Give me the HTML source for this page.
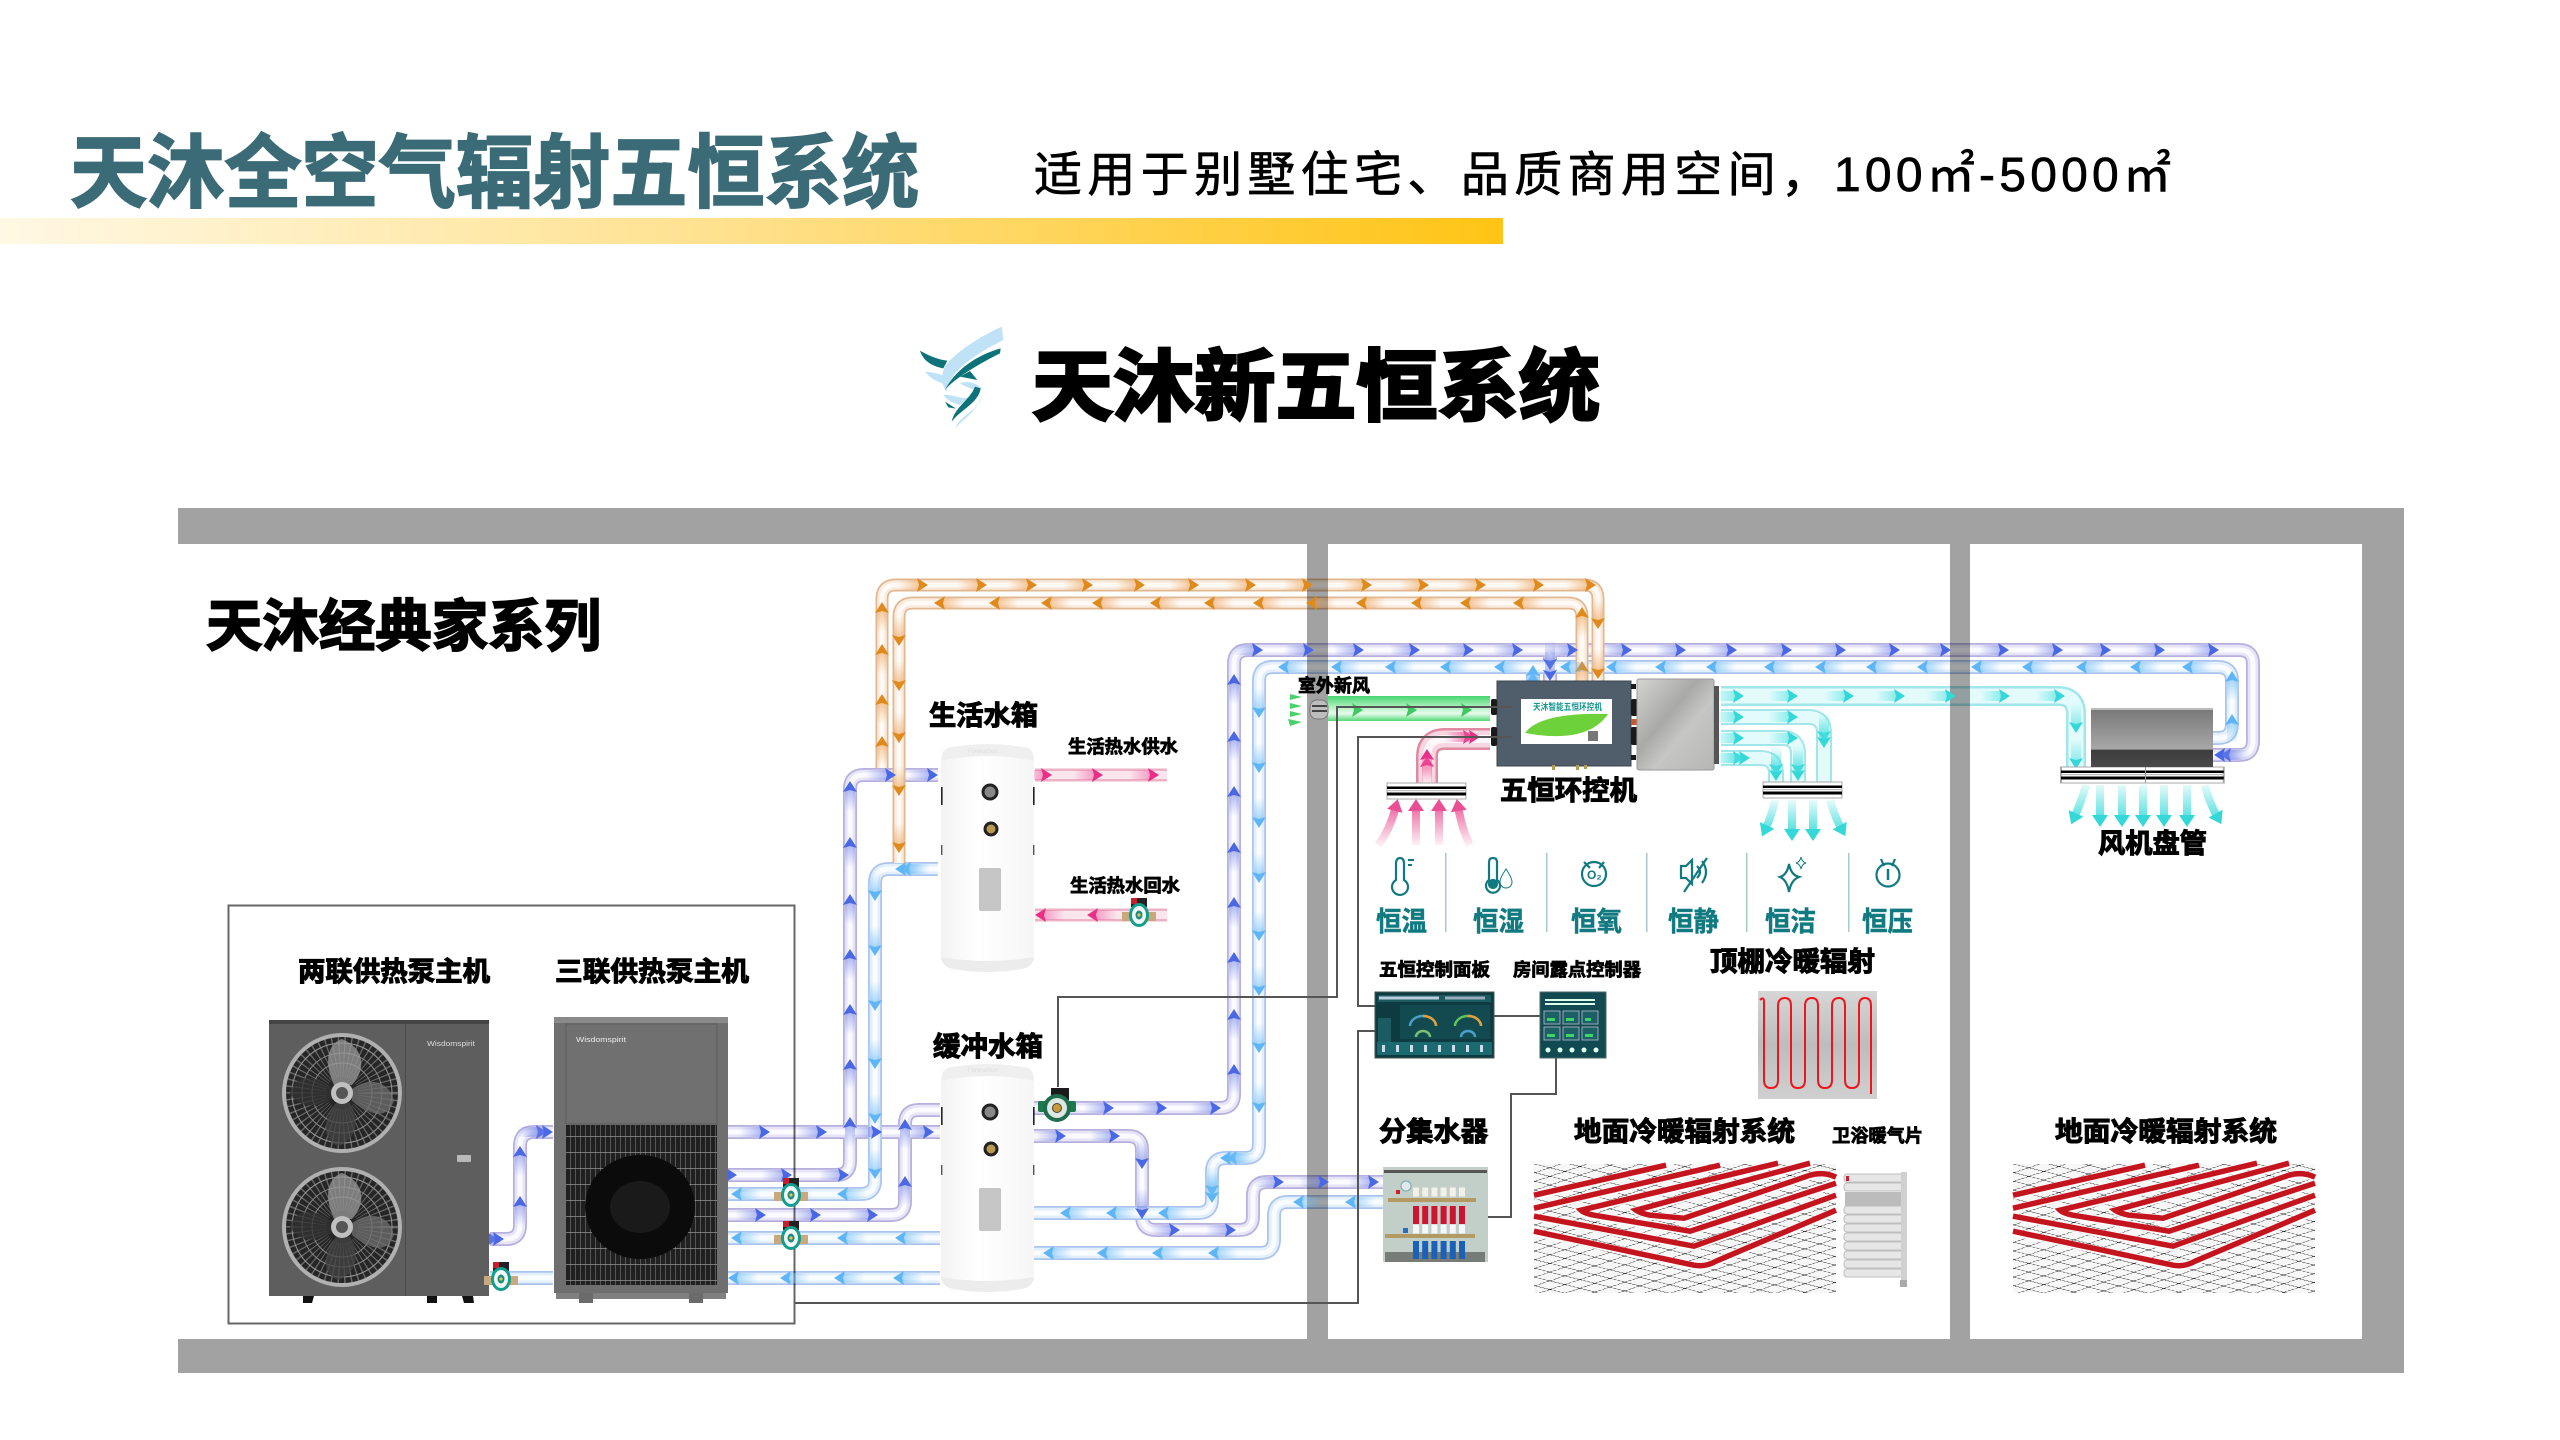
<!DOCTYPE html>
<html lang="zh"><head><meta charset="utf-8"><title>天沐全空气辐射五恒系统</title>
<style>
html,body{margin:0;padding:0;background:#fff}
svg{display:block;font-family:"Liberation Sans","Noto Sans CJK SC",sans-serif}
.t{font-weight:700;fill:#000;stroke:#000;stroke-width:1.100}
.c{font-weight:700;fill:#117a80;stroke:#117a80;stroke-width:.5}
.a{fill:none;stroke:none}
.mu{marker:url(#mu)}.mb{marker:url(#mb)}.mo{marker:url(#mo)}.mk{marker:url(#mk)}.mc{marker:url(#mc)}.mg{marker:url(#mg)}
.ic{fill:none;stroke:#117a80;stroke-width:2.200}
</style></head><body>
<svg width="2560" height="1440" viewBox="0 0 2560 1440" xmlns="http://www.w3.org/2000/svg">
<defs>
<linearGradient id="bar" x1="0" x2="1" y1="0" y2="0"><stop offset="0" stop-color="#fff8e4"/><stop offset=".5" stop-color="#ffe08a"/><stop offset="1" stop-color="#ffc414"/></linearGradient>
<linearGradient id="grn" x1="0" x2="0" y1="0" y2="1"><stop offset="0" stop-color="#45d66f"/><stop offset=".4" stop-color="#a8eeba"/><stop offset=".7" stop-color="#e8fbec"/><stop offset="1" stop-color="#52d977"/></linearGradient>
<linearGradient id="tank" x1="0" x2="1" y1="0" y2="0"><stop offset="0" stop-color="#f3f3f3"/><stop offset=".4" stop-color="#fff"/><stop offset="1" stop-color="#f6f6f6"/></linearGradient>
<linearGradient id="metal" x1="0" x2="1" y1="0" y2="1"><stop offset="0" stop-color="#d4d4d2"/><stop offset=".4" stop-color="#a9a9a7"/><stop offset=".6" stop-color="#c6c6c4"/><stop offset="1" stop-color="#b6b6b4"/></linearGradient>
<linearGradient id="fcu" x1="0" x2="0" y1="0" y2="1"><stop offset="0" stop-color="#777"/><stop offset=".7" stop-color="#a8a8a8"/><stop offset=".71" stop-color="#3d3d3d"/><stop offset="1" stop-color="#4a4a4a"/></linearGradient>
<linearGradient id="ceil" x1="0" x2="0" y1="0" y2="1"><stop offset="0" stop-color="#d6d6d6"/><stop offset=".5" stop-color="#bdbdbd"/><stop offset="1" stop-color="#d0d0d0"/></linearGradient>
<linearGradient id="cy1" gradientUnits="userSpaceOnUse" x1="0" x2="0" y1="800" y2="836"><stop offset="0" stop-color="#e8fbfb"/><stop offset="1" stop-color="#3fdcdc"/></linearGradient>
<linearGradient id="cy2" gradientUnits="userSpaceOnUse" x1="0" x2="0" y1="784" y2="824"><stop offset="0" stop-color="#e8fbfb"/><stop offset="1" stop-color="#3fdcdc"/></linearGradient>
<linearGradient id="pk1" gradientUnits="userSpaceOnUse" x1="0" x2="0" y1="845" y2="802"><stop offset="0" stop-color="#fdf0f5"/><stop offset="1" stop-color="#ec5a9a"/></linearGradient>
<linearGradient id="tu"><stop offset="0" stop-color="#6f80e6" stop-opacity="0"/><stop offset="1" stop-color="#6f80e6" stop-opacity=".55"/></linearGradient>
<linearGradient id="tb"><stop offset="0" stop-color="#6bbcf6" stop-opacity="0"/><stop offset="1" stop-color="#6bbcf6" stop-opacity=".6"/></linearGradient>
<linearGradient id="to"><stop offset="0" stop-color="#e99a4a" stop-opacity="0"/><stop offset="1" stop-color="#e99a4a" stop-opacity=".55"/></linearGradient>
<linearGradient id="tk"><stop offset="0" stop-color="#ee5f9f" stop-opacity="0"/><stop offset="1" stop-color="#ee5f9f" stop-opacity=".55"/></linearGradient>
<linearGradient id="tc"><stop offset="0" stop-color="#4fe0e0" stop-opacity="0"/><stop offset="1" stop-color="#4fe0e0" stop-opacity=".6"/></linearGradient>
<pattern id="mesh" width="15" height="15" patternUnits="userSpaceOnUse" patternTransform="matrix(1,-.33,1,.25,0,0)"><path d="M0 0H15M0 0V15" stroke="#111" stroke-width="1.700" stroke-dasharray="3 1" fill="none"/></pattern>
<pattern id="gr" width="5" height="16" patternUnits="userSpaceOnUse"><rect width="5" height="16" fill="#202020"/><path d="M0 0V16" stroke="#8a8a8a" stroke-width="1"/><path d="M0 0H5" stroke="#9a9a9a" stroke-width="1.400"/></pattern>
<marker id="mu" markerUnits="userSpaceOnUse" markerWidth="44" markerHeight="20" refX="30" refY="10" orient="auto" overflow="visible"><rect x="6" y="5" width="22" height="10" fill="url(#tu)"/><path d="M25 3L36 10L25 17L27 10Z" fill="#4a68e4"/></marker>
<marker id="mb" markerUnits="userSpaceOnUse" markerWidth="44" markerHeight="20" refX="30" refY="10" orient="auto" overflow="visible"><rect x="6" y="5" width="22" height="10" fill="url(#tb)"/><path d="M25 3L36 10L25 17L27 10Z" fill="#5fb6f6"/></marker>
<marker id="mo" markerUnits="userSpaceOnUse" markerWidth="44" markerHeight="20" refX="30" refY="10" orient="auto" overflow="visible"><rect x="6" y="5" width="22" height="10" fill="url(#to)"/><path d="M25 3L36 10L25 17L27 10Z" fill="#df8a1c"/></marker>
<marker id="mk" markerUnits="userSpaceOnUse" markerWidth="44" markerHeight="20" refX="30" refY="10" orient="auto" overflow="visible"><rect x="6" y="5" width="22" height="10" fill="url(#tk)"/><path d="M25 3L36 10L25 17L27 10Z" fill="#ea2f86"/></marker>
<marker id="mc" markerUnits="userSpaceOnUse" markerWidth="44" markerHeight="20" refX="30" refY="10" orient="auto" overflow="visible"><rect x="6" y="5" width="22" height="10" fill="url(#tc)"/><path d="M25 3L36 10L25 17L27 10Z" fill="#35d8d8"/></marker>
<marker id="mg" markerUnits="userSpaceOnUse" markerWidth="44" markerHeight="20" refX="30" refY="10" orient="auto" overflow="visible"><path d="M25 3L36 10L25 17L27 10Z" fill="#3ec95f"/></marker>
<marker id="hc" markerUnits="userSpaceOnUse" markerWidth="16" markerHeight="18" refX="6" refY="9" orient="auto" overflow="visible"><path d="M1 1L13 9L1 17Z" fill="#35d8d8"/></marker>
<marker id="hk" markerUnits="userSpaceOnUse" markerWidth="16" markerHeight="18" refX="6" refY="9" orient="auto" overflow="visible"><path d="M1 1L13 9L1 17Z" fill="#ea4f94"/></marker>
<symbol id="fan" overflow="visible"><circle r="58" fill="#262626" stroke="#b0b0b0" stroke-width="4"/><circle r="36" fill="none" stroke="#8c8c8c" stroke-width="40" stroke-dasharray="1 3.500" opacity=".65"/><circle r="50" fill="none" stroke="#999" stroke-width="1"/><circle r="40" fill="none" stroke="#888" stroke-width="1"/><circle r="30" fill="none" stroke="#888" stroke-width="1"/><path d="M-8-8C-20-35-12-50 0-54C22-45 25-25 10-8Z" fill="#9a9a9a" opacity=".75"/><path d="M10-4C30-18 48-10 52 8C44 28 28 22 10 8Z" fill="#6f6f6f" opacity=".75"/><path d="M8 10C20 30 12 48-4 53C-22 46-18 25-6 10Z" fill="#444" opacity=".75"/><path d="M-10 6C-30 18-46 12-52 0C-48-18-28-20-11-6Z" fill="#333" opacity=".75"/><circle r="11" fill="#c0c0c0"/><circle r="6" fill="#555"/></symbol>
<symbol id="tnk" overflow="visible"><path d="M0 18Q0 4 12 4Q46-2 81 4Q93 4 93 18V212Q93 224 81 226Q46 232 12 226Q0 224 0 212Z" fill="url(#tank)"/><path d="M0 18Q0 4 12 4Q46-2 81 4Q93 4 93 18Q46 8 0 18Z" fill="#efefef"/><path d="M0 214Q46 222 93 214V216Q90 224 81 226Q46 232 12 226Q3 224 0 216Z" fill="#ececec"/><circle cx="49" cy="49" r="7" fill="#888" stroke="#222" stroke-width="3"/><circle cx="50" cy="86" r="6" fill="#b89a50" stroke="#222" stroke-width="3"/><rect x="38" y="125" width="22" height="43" rx="2" fill="#c6c6c6"/><rect x="0" y="44" width="1.600" height="18" fill="#222"/><rect x="92" y="44" width="1.600" height="18" fill="#222"/><rect x="0" y="102" width="1.400" height="10" fill="#555"/><rect x="92" y="102" width="1.400" height="10" fill="#555"/></symbol>
<symbol id="pump" overflow="visible"><rect x="-17" y="-3" width="34" height="9" fill="#c8a97e"/><rect x="-8" y="-17" width="16" height="9" fill="#222"/><rect x="-8" y="-17" width="6" height="6" fill="#c81e2c"/><ellipse rx="10" ry="12" fill="#129d8c"/><ellipse rx="7" ry="9" fill="#f2f7f5"/><ellipse rx="3.500" ry="4.500" fill="#1b8d80"/><circle r="1.600" fill="#e8c35a"/></symbol>
<symbol id="vent" overflow="visible"><rect width="79" height="16" fill="#fff" stroke="#aaa"/><rect y="3.500" width="79" height="2.500" fill="#000"/><rect y="7" width="79" height="1.200" fill="#bbb"/><rect y="9.500" width="79" height="3" fill="#000"/></symbol>
<symbol id="floor" overflow="visible"><rect width="302" height="129" fill="#f7f7f7"/><rect width="302" height="129" fill="url(#mesh)"/><path d="M0 32L132 2M0 45L186 2M244 0L47 47Q50 50 60 52L156 68L302 20M276 0L102 47Q106 50 116 52L150 55L276 12Q290 8 302 14M0 53L160 83L302 32M0 68L160 102Q172 104 182 98L302 47" fill="none" stroke="#fff" stroke-width="8" opacity=".85"/><path d="M0 32L132 2M0 45L186 2M244 0L47 47Q50 50 60 52L156 68L302 20M276 0L102 47Q106 50 116 52L150 55L276 12Q290 8 302 14M0 53L160 83L302 32M0 68L160 102Q172 104 182 98L302 47" fill="none" stroke="#c4141d" stroke-width="5.500" transform="translate(0 -.8)"/></symbol>
</defs>

<rect width="2560" height="1440" fill="#fff"/>

<!-- header -->
<text x="70" y="201" font-size="80" font-weight="700" fill="#3a6b76" stroke="#3a6b76" stroke-width="1.800" textLength="849" lengthAdjust="spacingAndGlyphs">天沐全空气辐射五恒系统</text>
<text x="1034" y="191" font-size="48" fill="#000" stroke="#000" stroke-width=".7" textLength="795" lengthAdjust="spacing">适用于别墅住宅、品质商用空间，</text>
<text x="1834" y="191" font-size="48" fill="#000" stroke="#000" stroke-width=".7" textLength="337" lengthAdjust="spacing">100㎡-5000㎡</text>
<rect x="0" y="218" width="1503" height="26" fill="url(#bar)"/>

<!-- logo -->
<g transform="translate(910 320) scale(.3333)">
<path d="M275 20C210 50 130 100 105 140C90 170 95 195 110 215C115 170 160 120 280 60Z" fill="#bfe2f7"/>
<path d="M272 85C200 105 135 150 105 210C120 190 170 150 270 100Z" fill="#0d7378"/>
<path d="M30 92C60 110 90 120 112 122L100 145C70 140 40 125 30 92Z" fill="#0d7378"/>
<path d="M45 155C70 158 90 162 95 165L100 190C80 185 60 175 45 155Z" fill="#bfe2f7"/>
<path d="M150 170L202 180L180 153Z" fill="#0d7378"/>
<path d="M150 190C175 180 200 190 215 205C205 215 175 205 150 190Z" fill="#bfe2f7"/>
<path d="M100 225C130 222 160 240 175 232L150 255C130 250 110 240 100 225Z" fill="#bfe2f7"/>
<path d="M105 245L138 266L115 262Z" fill="#0d7378"/>
<path d="M125 305C135 260 180 240 195 200L212 205C205 250 150 270 125 305Z" fill="#0d7378"/>
<path d="M135 325C170 290 210 260 217 225L205 250C190 275 150 290 135 325Z" fill="#bfe2f7"/>
</g>
<text x="1032" y="414" font-size="78" class="t" style="stroke-width:3" textLength="568" lengthAdjust="spacingAndGlyphs">天沐新五恒系统</text>

<!-- building frame -->
<rect x="178" y="508" width="2226" height="36" fill="#a2a2a2"/>
<rect x="178" y="1339" width="2226" height="34" fill="#a2a2a2"/>
<rect x="1307" y="544" width="21" height="795" fill="#a2a2a2"/>
<rect x="1950" y="544" width="20" height="795" fill="#a2a2a2"/>
<rect x="2362" y="544" width="42" height="795" fill="#a2a2a2"/>
<rect x="228.500" y="905.500" width="566" height="418" fill="#fff" stroke="#666" stroke-width="2"/>
<text x="206" y="646" font-size="56" class="t" style="stroke-width:1.800" textLength="395" lengthAdjust="spacingAndGlyphs">天沐经典家系列</text>

<!-- pipes -->
<g style="mix-blend-mode:multiply">
<defs>
<path id="pA" d="M1034 1108H1220Q1234 1108 1234 1094V664Q1234 650 1248 650H2239Q2253 650 2253 664V741Q2253 755 2239 755H2213"/>
<path id="pC" d="M1034 1136H1128Q1142 1136 1142 1150V1216Q1142 1230 1156 1230H1239Q1253 1230 1253 1216V1196Q1253 1182 1267 1182H1383"/>
<path id="pL1" d="M728 1175H836Q850 1175 850 1161V789Q850 775 864 775H938"/>
<path id="pP1" d="M490 1239H506Q520 1239 520 1225V1146Q520 1132 534 1132H553"/>
<path id="pP2" d="M728 1132H940"/>
<path id="pP3" d="M728 1215H891Q905 1215 905 1201V1124Q905 1110 919 1110H940"/>
<path id="pSm1" d="M1550 650V682"/>
<path id="pB" d="M1034 1213H1198Q1212 1213 1212 1199V1172Q1212 1158 1226 1158H1245Q1259 1158 1259 1144V681Q1259 667 1273 667H2218Q2232 667 2232 681V724Q2232 738 2218 738H2213"/>
<path id="pD" d="M1034 1253H1260Q1274 1253 1274 1239V1216Q1274 1202 1288 1202H1383"/>
<path id="pL2" d="M728 1194H861Q875 1194 875 1180V883Q875 869 889 869H938"/>
<path id="pP4" d="M728 1238H940"/>
<path id="pP5" d="M490 1278H553M728 1278H940"/>
<path id="pSm2" d="M1533 667V682"/>
<path id="pO1" d="M882 768V599Q882 585 896 585H1584Q1598 585 1598 599V682"/>
<path id="pO2" d="M899 863V617Q899 603 913 603H1568Q1582 603 1582 617V682"/>
<path id="pK1" d="M1035 775H1167"/>
<path id="pK2" d="M1035 915H1167"/>
<path id="pC1" d="M1721 717H1808Q1824 717 1824 733V782"/>
<path id="pC2" d="M1721 738H1782Q1798 738 1798 754V782"/>
<path id="pC3" d="M1721 758H1760Q1776 758 1776 774V782"/>
</defs>
<g>
<g fill="none" stroke="#b5b0de" stroke-width="14"><use href="#pA"/><use href="#pC"/><use href="#pL1"/><use href="#pP1"/><use href="#pP2"/><use href="#pP3"/><use href="#pSm1"/></g>
<g fill="none" stroke="#e6e4f6" stroke-width="10.500"><use href="#pA"/><use href="#pC"/><use href="#pL1"/><use href="#pP1"/><use href="#pP2"/><use href="#pP3"/><use href="#pSm1"/></g>
<g fill="none" stroke="#fafaff" stroke-width="5"><use href="#pA"/><use href="#pC"/><use href="#pL1"/><use href="#pP1"/><use href="#pP2"/><use href="#pP3"/><use href="#pSm1"/></g>
</g>
<g>
<g fill="none" stroke="#a9c4ee" stroke-width="14"><use href="#pB"/><use href="#pD"/><use href="#pL2"/><use href="#pP4"/><use href="#pP5"/><use href="#pSm2"/></g>
<g fill="none" stroke="#e4effc" stroke-width="10.500"><use href="#pB"/><use href="#pD"/><use href="#pL2"/><use href="#pP4"/><use href="#pP5"/><use href="#pSm2"/></g>
<g fill="none" stroke="#fafdff" stroke-width="5"><use href="#pB"/><use href="#pD"/><use href="#pL2"/><use href="#pP4"/><use href="#pP5"/><use href="#pSm2"/></g>
</g>
<g>
<g fill="none" stroke="#e2b78f" stroke-width="13"><use href="#pO1"/><use href="#pO2"/></g>
<g fill="none" stroke="#f9ebde" stroke-width="9.500"><use href="#pO1"/><use href="#pO2"/></g>
<g fill="none" stroke="#fffaf5" stroke-width="4.500"><use href="#pO1"/><use href="#pO2"/></g>
</g>
<g>
<g fill="none" stroke="#eeb2c6" stroke-width="13"><use href="#pK1"/><use href="#pK2"/></g>
<g fill="none" stroke="#fbe6ee" stroke-width="8"><use href="#pK1"/><use href="#pK2"/></g>
</g>
<path d="M1427 783V757Q1427 739 1445 739H1490" fill="none" stroke="#e08aa2" stroke-width="22"/>
<path d="M1427 783V757Q1427 739 1445 739H1490" fill="none" stroke="#f6d6e0" stroke-width="17"/>
<path d="M1427 783V757Q1427 739 1445 739H1490" fill="none" stroke="#fff6f9" stroke-width="8"/>
<rect x="1328" y="696" width="162" height="25" fill="url(#grn)"/>
<g fill="none" stroke="#a0e6ea"><path d="M1721 696H2058Q2076 696 2076 714V767" stroke-width="20"/><use href="#pC1" stroke-width="16"/><use href="#pC2" stroke-width="16"/><use href="#pC3" stroke-width="16"/></g>
<g fill="none" stroke="#e4fbfc"><path d="M1721 696H2058Q2076 696 2076 714V767" stroke-width="15"/><use href="#pC1" stroke-width="12"/><use href="#pC2" stroke-width="12"/><use href="#pC3" stroke-width="12"/></g>
</g>

<!-- arrows on pipes -->
<polyline class="a mo" points="922,585 981,585 1031,585 1087,585 1139,585 1193,585 1250,585 1307,585 1366,585 1423,585 1480,585 1538,585 1590,585"/>
<polyline class="a mo" points="1519,603 1466,603 1417,603 1362,603 1312,603 1259,603 1210,603 1156,603 1098,603 1047,603 995,603 940,603"/>
<polyline class="a mo" points="882,742 882,700 882,650 882,608"/>
<polyline class="a mo" points="899,640 899,685 899,737 899,790 899,847"/>
<polyline class="a mo" points="1598,623 1598,673"/>
<polyline class="a mo" points="1582,667 1582,613"/>
<polyline class="a mu" points="1257,650 1308,650 1358,650 1414,650 1468,650 1517,650 1572,650 1626,650 1680,650 1731,650 1786,650 1840,650 1894,650 1945,650 2003,650 2057,650 2105,650 2159,650 2213,650"/>
<polyline class="a mu" points="1234,1070 1234,1015 1234,958 1234,903 1234,848 1234,792 1234,737 1234,680"/>
<polyline class="a mu" points="1108,1108 1161,1108 1215,1108"/>
<polyline class="a mu" points="1550,664 1550,675"/>
<polyline class="a mu" points="2226,755 2220,755"/>
<polyline class="a mb" points="2188,667 2136,667 2082,667 2028,667 1977,667 1923,667 1872,667 1821,667 1770,667 1712,667 1661,667 1612,667 1566,667 1500,667 1446,667 1391,667 1337,667 1284,667"/>
<polyline class="a mb" points="1259,712 1259,767 1259,822 1259,877 1259,935 1259,990 1259,1047 1259,1107"/>
<polyline class="a mb" points="1232,1158 1226,1158"/>
<polyline class="a mb" points="1212,1190 1212,1197"/>
<polyline class="a mb" points="1164,1213 1112,1213 1066,1213"/>
<polyline class="a mb" points="2232,720 2232,677"/>
<polyline class="a mb" points="1533,678 1533,671"/>
<polyline class="a mu" points="1060,1136 1114,1136"/>
<polyline class="a mu" points="1142,1163 1142,1213"/>
<polyline class="a mu" points="1174,1230 1230,1230"/>
<polyline class="a mu" points="1278,1182 1323,1182 1373,1182"/>
<polyline class="a mb" points="1214,1253 1158,1253 1103,1253 1049,1253"/>
<polyline class="a mb" points="1351,1202 1299,1202"/>
<polyline class="a mu" points="850,1123 850,1065 850,1010 850,955 850,900 850,843 850,787"/>
<polyline class="a mu" points="890,775 932,775"/>
<polyline class="a mu" points="731,1175 786,1175 843,1175"/>
<polyline class="a mb" points="875,895 875,950 875,1005 875,1063 875,1118 875,1173"/>
<polyline class="a mb" points="906,869 901,869"/>
<polyline class="a mb" points="843,1194 788,1194 737,1194"/>
<polyline class="a mu" points="520,1202 520,1152"/>
<polyline class="a mu" points="541,1132 547,1132"/>
<polyline class="a mu" points="492,1239 498,1239"/>
<polyline class="a mu" points="764,1132 821,1132 876,1132 928,1132"/>
<polyline class="a mu" points="760,1215 815,1215 872,1215"/>
<polyline class="a mu" points="905,1182 905,1125"/>
<polyline class="a mb" points="901,1238 843,1238 737,1238"/>
<polyline class="a mb" points="899,1278 840,1278 786,1278 734,1278"/>
<polyline class="a mk" points="1046,775 1097,775 1153,775"/>
<polyline class="a mk" points="1093,915 1041,915"/>
<polyline class="a mk" points="1427,762 1427,755"/>
<polyline class="a mk" points="1468,737 1474,737"/>
<polyline class="a mg" points="1357,710 1411,710 1466,710"/>
<polyline class="a mc" points="1738,696 1792,696 1848,696 1899,696 1950,696 2004,696 2059,696"/>
<polyline class="a mc" points="2076,727 2076,763"/>
<polyline class="a mc" points="1738,717 1792,717"/>
<polyline class="a mc" points="1824,736 1824,742"/>
<polyline class="a mc" points="1738,738 1792,738"/>
<polyline class="a mc" points="1798,769 1798,775"/>
<polyline class="a mc" points="1738,758 1744,758"/>
<polyline class="a mc" points="1776,769 1776,775"/>

<!-- outdoor fresh air -->
<g fill="#4ad06c"><path d="M1290 694L1302 697L1290 700Z"/><path d="M1290 703L1302 706L1290 709Z"/><path d="M1290 711L1302 714L1290 717Z"/><path d="M1288 719L1302 722L1290 726Z"/></g>
<rect x="1310" y="700" width="18" height="19" rx="7" fill="#bdbdbd" stroke="#777"/><rect x="1312" y="705" width="15" height="2" fill="#444"/><rect x="1312" y="710" width="15" height="2" fill="#444"/>

<!-- vents & flow arrows -->
<use href="#vent" x="1387" y="783"/>
<use href="#vent" x="1763" y="782"/>
<g transform="translate(2061 767) scale(2.060 1)"><use href="#vent"/></g>
<rect x="2145" y="767" width="1" height="16" fill="#999"/>
<g fill="none" stroke="url(#pk1)" stroke-width="8"><path d="M1378 845Q1390 830 1396 806" marker-end="url(#hk)"/><path d="M1416 845V806" marker-end="url(#hk)"/><path d="M1439 845V806" marker-end="url(#hk)"/><path d="M1470 845Q1462 830 1458 806" marker-end="url(#hk)"/></g>
<g fill="none" stroke="url(#cy1)" stroke-width="8"><path d="M1775 800Q1772 815 1765 830" marker-end="url(#hc)"/><path d="M1792 800V834" marker-end="url(#hc)"/><path d="M1813 800V834" marker-end="url(#hc)"/><path d="M1830 800Q1834 815 1842 830" marker-end="url(#hc)"/></g>
<g fill="none" stroke="url(#cy2)" stroke-width="8"><path d="M2086 785Q2082 800 2074 818" marker-end="url(#hc)"/><path d="M2100 785V820" marker-end="url(#hc)"/><path d="M2122 785V820" marker-end="url(#hc)"/><path d="M2143 785V820" marker-end="url(#hc)"/><path d="M2164 785V820" marker-end="url(#hc)"/><path d="M2187 785V820" marker-end="url(#hc)"/><path d="M2205 785Q2208 800 2218 818" marker-end="url(#hc)"/></g>

<!-- HVAC unit -->
<rect x="1497" y="681" width="134" height="85" fill="#505e6c" stroke="#3a4650"/>
<rect x="1521" y="699" width="91" height="45" fill="#fff"/>
<text x="1533" y="710" font-size="9" font-weight="700" fill="#17958f" textLength="69" lengthAdjust="spacingAndGlyphs">天沐智能五恒环控机</text>
<path d="M1525 733Q1540 712 1608 714Q1590 741 1538 735Z" fill="#6dd23a"/>
<rect x="1588" y="731" width="10" height="10" fill="#777"/>
<g fill="#1a1a1a"><rect x="1491" y="699" width="6" height="16" rx="2"/><rect x="1491" y="727" width="6" height="19" rx="2"/><rect x="1631" y="699" width="7" height="17" rx="2"/><rect x="1631" y="727" width="7" height="18" rx="2"/><rect x="1631" y="684" width="5" height="5"/><rect x="1631" y="755" width="5" height="5"/></g>
<rect x="1631" y="719" width="6" height="6" fill="#c85a30"/>
<rect x="1552" y="765" width="3" height="5" fill="#b89a50"/><rect x="1576" y="765" width="3" height="5" fill="#b89a50"/><rect x="1584" y="765" width="3" height="4" fill="#b89a50"/>
<rect x="1637" y="679" width="77" height="91" rx="2" fill="url(#metal)" stroke="#999"/>
<rect x="1714" y="686" width="5" height="78" fill="#555"/>

<!-- Fan coil -->
<rect x="2091" y="708" width="122" height="59" fill="url(#fcu)"/>
<rect x="2091" y="708" width="122" height="2" fill="#bbb"/>

<!-- heat pump 2 fans -->
<rect x="269" y="1020" width="220" height="276" fill="#5e5e5e"/>
<rect x="269" y="1020" width="220" height="4" fill="#444"/>
<rect x="405" y="1024" width="1" height="272" fill="#4a4a4a"/>
<use href="#fan" x="342" y="1093"/>
<use href="#fan" x="342" y="1227"/>
<rect x="457" y="1155" width="14" height="7" rx="1" fill="#b9b9b9"/>
<text x="427" y="1046" font-size="7" fill="#ddd" textLength="48" lengthAdjust="spacingAndGlyphs">Wisdomspirit</text>
<g fill="#111"><path d="M303 1296H314L312 1303H303Z"/><rect x="427" y="1296" width="10" height="7"/><path d="M462 1296H473L474 1303H464Z"/></g>

<!-- heat pump 3 -->
<rect x="554" y="1017" width="174" height="276" fill="#6f6f6f"/>
<rect x="554" y="1017" width="174" height="6" fill="#8a8a8a"/>
<rect x="566" y="1024" width="151" height="100" fill="#707070" stroke="#5c5c5c"/>
<text x="576" y="1042" font-size="7" fill="#eee" textLength="50" lengthAdjust="spacingAndGlyphs">Wisdomspirit</text>
<rect x="566" y="1125" width="151" height="160" fill="url(#gr)"/>
<ellipse cx="640" cy="1207" rx="55" ry="52" fill="#0b0b0b"/>
<ellipse cx="640" cy="1207" rx="30" ry="26" fill="#1a1a1a"/>
<rect x="556" y="1293" width="170" height="6" fill="#808080"/>
<g fill="#6b6b6b"><rect x="579" y="1293" width="14" height="10"/><rect x="689" y="1293" width="14" height="10"/></g>

<!-- tanks -->
<use href="#tnk" x="941" y="743"/>
<use href="#tnk" x="941" y="1063"/>
<text x="968" y="753" font-size="6" fill="#ddd">ForenaSun</text>
<text x="968" y="1072" font-size="6" fill="#ddd">ForenaSun</text>

<!-- pumps -->
<use href="#pump" x="791" y="1195"/>
<use href="#pump" x="791" y="1238"/>
<use href="#pump" x="501" y="1279"/>
<use href="#pump" x="1139" y="915"/>
<g transform="translate(1057 1108)"><rect x="-6" y="-20" width="18" height="12" fill="#1c1c1c"/><rect x="-19" y="-7" width="38" height="11" rx="2" fill="#1d7a4f"/><circle r="14" fill="#1f6f4e"/><circle r="10" fill="#dfe7e2"/><circle r="4.500" fill="#c99a35" stroke="#444"/></g>

<!-- wires -->
<g fill="none" stroke="#555" stroke-width="2">
<path d="M1512 707H1337V997H1058V1087"/>
<path d="M1512 737H1358V1006H1375"/>
<path d="M1375 1031H1358V1303H795"/>
<path d="M1494 1016H1540"/>
<path d="M1556 1058V1094H1511V1217H1488"/>
</g>

<!-- panels -->
<rect x="1375" y="992" width="119" height="66" fill="#0e3a42" stroke="#455"/>
<rect x="1378" y="995" width="113" height="7" fill="#1c5a60"/>
<rect x="1379" y="996.500" width="60" height="3" fill="#bcd"/><rect x="1445" y="996.500" width="40" height="3" fill="#9ab"/>
<rect x="1400" y="1005" width="90" height="34" fill="#124a50"/>
<rect x="1378" y="1018" width="13" height="24" fill="#1a5c62"/>
<rect x="1377" y="1042" width="115" height="13" fill="#1b6a70"/>
<g fill="#cde"><rect x="1382" y="1045" width="3" height="7"/><rect x="1396" y="1045" width="3" height="7"/><rect x="1410" y="1045" width="3" height="7"/><rect x="1424" y="1045" width="3" height="7"/><rect x="1438" y="1045" width="3" height="7"/><rect x="1452" y="1045" width="3" height="7"/><rect x="1466" y="1045" width="3" height="7"/><rect x="1480" y="1045" width="3" height="7"/></g>
<g fill="none" stroke-width="2.500"><path d="M1410 1026A13 10 0 0 1 1436 1026" stroke="#4aa0c8"/><path d="M1423 1016A13 10 0 0 1 1436 1026" stroke="#e0a040"/><path d="M1455 1026A13 10 0 0 1 1481 1026" stroke="#63c45a"/><path d="M1468 1016A13 10 0 0 1 1481 1026" stroke="#e0a040"/><path d="M1416 1037A7 6 0 0 1 1430 1037" stroke="#7ac070"/><path d="M1461 1037A7 6 0 0 1 1475 1037" stroke="#4aa0c8"/></g>
<rect x="1540" y="992" width="66" height="66" fill="#114a50" stroke="#4a6a6a"/>
<g fill="#1c6066" stroke="#9ab"><rect x="1544" y="1011" width="16" height="13"/><rect x="1563" y="1011" width="16" height="13"/><rect x="1582" y="1011" width="16" height="13"/><rect x="1544" y="1027" width="16" height="13"/><rect x="1563" y="1027" width="16" height="13"/><rect x="1582" y="1027" width="16" height="13"/></g>
<g fill="#3fd46b"><rect x="1547" y="1018" width="8" height="3"/><rect x="1566" y="1018" width="8" height="3"/><rect x="1585" y="1018" width="6" height="3"/><rect x="1547" y="1034" width="8" height="3"/><rect x="1566" y="1034" width="8" height="3"/><rect x="1585" y="1034" width="8" height="3"/></g>
<g fill="#dfe"><rect x="1545" y="999" width="50" height="2"/><rect x="1545" y="1003" width="50" height="2"/><circle cx="1548" cy="1050" r="2.500"/><circle cx="1560" cy="1050" r="2.500"/><circle cx="1572" cy="1050" r="2.500"/><circle cx="1584" cy="1050" r="2.500"/><circle cx="1596" cy="1050" r="2.500"/></g>

<!-- ceiling radiant -->
<rect x="1758" y="991" width="119" height="108" fill="url(#ceil)"/>
<path d="M1760 1000Q1764 996 1764 1002V1080Q1764 1088 1771 1088Q1778 1088 1778 1080V1006Q1778 998 1785 998Q1791 998 1791 1006V1080Q1791 1088 1798 1088Q1805 1088 1805 1080V1006Q1805 998 1812 998Q1818 998 1818 1006V1080Q1818 1088 1825 1088Q1832 1088 1832 1080V1006Q1832 998 1839 998Q1845 998 1845 1006V1080Q1845 1088 1852 1088Q1859 1088 1859 1080V1006Q1859 998 1865 998Q1871 998 1871 1006V1094" fill="none" stroke="#f0141c" stroke-width="2"/>

<!-- manifold -->
<rect x="1383" y="1167" width="105" height="95" fill="#c2cec8"/>
<rect x="1384" y="1170" width="103" height="3" fill="#555"/>
<rect x="1385" y="1252" width="100" height="10" fill="#777c79"/>
<circle cx="1406" cy="1186" r="5" fill="#dfe8ee" stroke="#7aa"/>
<line x1="1413" y1="1215" x2="1468" y2="1215" stroke="#cc1530" stroke-width="18" stroke-dasharray="6 3.200"/>
<line x1="1413" y1="1250" x2="1468" y2="1250" stroke="#1a62b8" stroke-width="18" stroke-dasharray="6 3.200"/>
<line x1="1413" y1="1192" x2="1468" y2="1192" stroke="#f4f0ea" stroke-width="9" stroke-dasharray="6 3.200"/>
<line x1="1413" y1="1229" x2="1468" y2="1229" stroke="#f4f6f8" stroke-width="9" stroke-dasharray="6 3.200"/>
<rect x="1388" y="1198" width="88" height="4" fill="#b39a62"/>
<rect x="1385" y="1234" width="90" height="4" fill="#b39a62"/>
<rect x="1396" y="1190" width="4" height="4" fill="#c82030"/>
<rect x="1403" y="1228" width="5" height="5" fill="#2a70c0"/>

<!-- floors -->
<use href="#floor" x="1534" y="1164"/>
<use href="#floor" x="2013" y="1164"/>

<!-- towel radiator -->
<g fill="#e6e6e6" stroke="#bdbdbd"><rect x="1844" y="1174" width="60" height="8" rx="3"/><rect x="1844" y="1183" width="60" height="8" rx="3"/><rect x="1844" y="1206" width="60" height="8" rx="3"/><rect x="1844" y="1215" width="60" height="8" rx="3"/><rect x="1844" y="1224" width="60" height="8" rx="3"/><rect x="1844" y="1233" width="60" height="8" rx="3"/><rect x="1844" y="1242" width="60" height="8" rx="3"/><rect x="1844" y="1251" width="60" height="8" rx="3"/><rect x="1844" y="1260" width="60" height="8" rx="3"/><rect x="1844" y="1269" width="60" height="8" rx="3"/></g>
<rect x="1845" y="1192" width="56" height="14" fill="#bcbcbc"/>
<rect x="1901" y="1172" width="6" height="112" fill="#d0d0d0"/>
<rect x="1846" y="1176" width="3" height="5" fill="#c82030"/>
<rect x="1900" y="1280" width="7" height="7" fill="#aaa"/>

<!-- dividers -->
<g fill="#a7c9cd"><rect x="1445" y="853" width="1.500" height="79"/><rect x="1546" y="853" width="1.500" height="79"/><rect x="1646" y="853" width="1.500" height="79"/><rect x="1746" y="853" width="1.500" height="79"/><rect x="1848" y="853" width="1.500" height="79"/></g>

<!-- feature icons -->
<g class="ic">
<path d="M1396 880V864Q1396 858 1400 858Q1404 858 1404 864V880A8 8 0 1 1 1396 880Z"/><path d="M1408 860H1414M1408 865H1412" stroke-width="2"/>
<path d="M1489 880V862Q1489 858 1493 858Q1497 858 1497 862V880A7 7 0 1 1 1489 880Z"/><circle cx="1493" cy="884" r="4" fill="#117a80"/><path d="M1506 869Q1512 878 1512 882A6 6 0 0 1 1500 882Q1500 878 1506 869Z" stroke-width="1"/>
<circle cx="1594" cy="874" r="12"/><path d="M1584 862L1590 868M1604 862L1599 868"/><text x="1587" y="879" font-size="12" fill="#117a80" stroke="none" font-weight="700">O₂</text>
<path d="M1681 866H1686L1692 860V884L1686 878H1681Z"/><path d="M1697 866Q1703 872 1697 878M1702 861Q1710 872 1702 883M1684 892L1707 858"/>
<path d="M1789 864Q1791 875 1799 877Q1791 880 1789 892Q1787 880 1780 877Q1787 875 1789 864Z"/><path d="M1801 857Q1802 862 1806 863Q1802 864 1801 869Q1800 864 1796 863Q1800 862 1801 857Z" stroke-width="1"/>
<circle cx="1888" cy="875" r="11.500"/><path d="M1881 859L1884 866M1895 859L1892 866"/><path d="M1888 869V880" stroke-width="2.500"/>
</g>
<text x="1376" y="931" font-size="27" class="c" textLength="51" lengthAdjust="spacingAndGlyphs">恒温</text>
<text x="1473" y="931" font-size="27" class="c" textLength="51" lengthAdjust="spacingAndGlyphs">恒湿</text>
<text x="1571" y="931" font-size="27" class="c" textLength="51" lengthAdjust="spacingAndGlyphs">恒氧</text>
<text x="1668" y="931" font-size="27" class="c" textLength="51" lengthAdjust="spacingAndGlyphs">恒静</text>
<text x="1765" y="931" font-size="27" class="c" textLength="51" lengthAdjust="spacingAndGlyphs">恒洁</text>
<text x="1862" y="931" font-size="27" class="c" textLength="51" lengthAdjust="spacingAndGlyphs">恒压</text>

<!-- labels -->
<text x="298" y="981" font-size="27" class="t" textLength="192" lengthAdjust="spacingAndGlyphs">两联供热泵主机</text>
<text x="555" y="981" font-size="27" class="t" textLength="194" lengthAdjust="spacingAndGlyphs">三联供热泵主机</text>
<text x="929" y="725" font-size="27" class="t" textLength="109" lengthAdjust="spacingAndGlyphs">生活水箱</text>
<text x="933" y="1056" font-size="27" class="t" textLength="110" lengthAdjust="spacingAndGlyphs">缓冲水箱</text>
<text x="1068" y="753" font-size="18" class="t" style="stroke-width:.8" textLength="110" lengthAdjust="spacingAndGlyphs">生活热水供水</text>
<text x="1070" y="892" font-size="18" class="t" style="stroke-width:.8" textLength="110" lengthAdjust="spacingAndGlyphs">生活热水回水</text>
<text x="1298" y="692" font-size="18" class="t" style="stroke-width:.8" textLength="72" lengthAdjust="spacingAndGlyphs">室外新风</text>
<text x="1500" y="800" font-size="27" class="t" textLength="137" lengthAdjust="spacingAndGlyphs">五恒环控机</text>
<text x="2098" y="853" font-size="27" class="t" textLength="109" lengthAdjust="spacingAndGlyphs">风机盘管</text>
<text x="1379" y="976" font-size="18" class="t" style="stroke-width:.8" textLength="111" lengthAdjust="spacingAndGlyphs">五恒控制面板</text>
<text x="1513" y="976" font-size="18" class="t" style="stroke-width:.8" textLength="128" lengthAdjust="spacingAndGlyphs">房间露点控制器</text>
<text x="1710" y="971" font-size="27" class="t" textLength="165" lengthAdjust="spacingAndGlyphs">顶棚冷暖辐射</text>
<text x="1379" y="1141" font-size="27" class="t" textLength="109" lengthAdjust="spacingAndGlyphs">分集水器</text>
<text x="1574" y="1141" font-size="27" class="t" textLength="221" lengthAdjust="spacingAndGlyphs">地面冷暖辐射系统</text>
<text x="1832" y="1142" font-size="18" class="t" style="stroke-width:.8" textLength="91" lengthAdjust="spacingAndGlyphs">卫浴暖气片</text>
<text x="2055" y="1141" font-size="27" class="t" textLength="222" lengthAdjust="spacingAndGlyphs">地面冷暖辐射系统</text>
</svg>
</body></html>
